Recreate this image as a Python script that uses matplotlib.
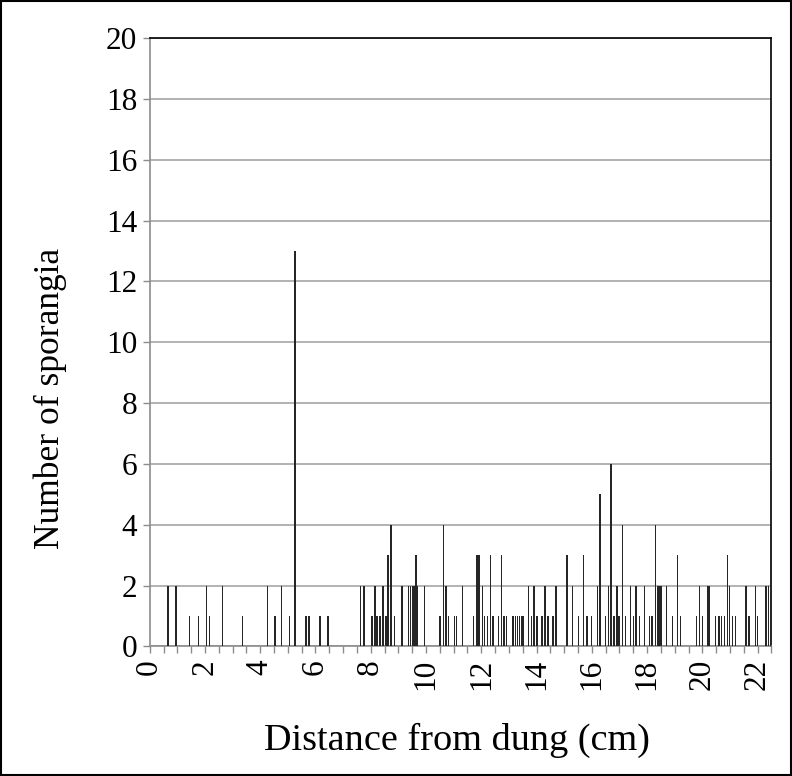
import numpy as np
import matplotlib
matplotlib.use("Agg")
from matplotlib import pyplot as plt
from matplotlib.patches import Rectangle

# distance from dung (cm) and number of sporangia
distance = [0.66, 0.95, 1.45, 1.76, 2.06, 2.16, 2.64, 3.36, 4.27, 4.54, 4.76, 5.05, 5.26,
            5.66, 5.76, 6.16, 6.45, 7.64, 7.75, 8.04, 8.15, 8.23, 8.34, 8.45, 8.55, 8.63,
            8.73, 8.86, 9.13, 9.36, 9.43, 9.51, 9.57, 9.64, 9.69, 9.94, 10.51, 10.64, 10.73,
            10.82, 11.03, 11.11, 11.33, 11.72, 11.82, 11.88, 11.94, 12.04, 12.12, 12.22,
            12.33, 12.42, 12.63, 12.73, 12.82, 12.91, 13.15, 13.24, 13.31, 13.39, 13.47,
            13.53, 13.71, 13.82, 13.91, 14.01, 14.20, 14.30, 14.41, 14.60, 14.70, 15.10,
            15.31, 15.51, 15.71, 15.82, 16.00, 16.20, 16.30, 16.49, 16.60, 16.69, 16.81,
            16.91, 16.99, 17.11, 17.21, 17.39, 17.51, 17.60, 17.72, 17.91, 18.09, 18.18,
            18.30, 18.39, 18.46, 18.51, 18.70, 18.91, 19.11, 19.21, 19.78, 19.90, 20.00,
            20.18, 20.24, 20.48, 20.60, 20.70, 20.81, 20.91, 20.99, 21.09, 21.19, 21.58,
            21.69, 21.93, 22.00, 22.28, 22.33, 22.40, 22.47]
sporangia = [2, 2, 1, 1, 2, 1, 2, 1, 2, 1, 2, 1, 13,
             1, 1, 1, 1, 2, 2, 1, 2, 1, 1, 2, 1, 3,
             4, 1, 2, 2, 2, 2, 2, 3, 2, 2, 1, 4, 2,
             1, 1, 1, 2, 1, 3, 3, 3, 2, 1, 1,
             3, 1, 1, 3, 1, 1, 1, 1, 1, 1, 1,
             1, 2, 1, 2, 1, 1, 2, 1, 1, 2, 3,
             2, 1, 3, 1, 1, 2, 5, 1, 2, 6, 1,
             2, 1, 4, 1, 2, 1, 2, 1, 2, 1, 1,
             4, 2, 2, 2, 2, 1, 3, 1, 1, 2, 1,
             2, 2, 1, 1, 1, 1, 3, 2, 1, 1, 2,
             1, 2, 1, 2, 2, 2, 4]

y_ticks = np.arange(0, 21, 2)
x_ticks = np.arange(0, 22.6, 0.5)

plt.rcParams["font.family"] = ["Liberation Serif", "DejaVu Serif"]

fig = plt.figure(figsize=(7.92, 7.76), dpi=100)
ax = fig.add_axes([0.189, 0.167, 0.785, 0.784])

ax.bar(distance, sporangia, width=0.05, color="#262626", zorder=3)

ax.set_xlim(0, 22.5)
ax.set_ylim(0, 20)
ax.set_yticks(y_ticks)
ax.set_xticks(x_ticks)
ax.set_xticklabels([str(int(t)) if t % 2 == 0 else "" for t in x_ticks], rotation=90)
ax.tick_params(axis="both", direction="out", length=5, width=1, color="#8c8c8c",
               labelsize=22.5, pad=4)
ax.grid(axis="y", color="#a6a6a6", linewidth=1.2, zorder=0)
ax.set_axisbelow(True)

for s in ["left", "bottom"]:
    ax.spines[s].set_color("#8c8c8c")
    ax.spines[s].set_linewidth(1.2)
for s in ["top", "right"]:
    ax.spines[s].set_color("black")
    ax.spines[s].set_linewidth(1.2)

ax.set_xlabel("Distance from dung (cm)", fontsize=27.5)
ax.set_ylabel("Number of sporangia", fontsize=25.5)
ax.xaxis.set_label_coords(0.494, -0.125)
ax.yaxis.set_label_coords(-0.133, 0.408)

fig.add_artist(Rectangle((0.001, 0.001), 0.998, 0.998, transform=fig.transFigure,
                         fill=False, edgecolor="black", linewidth=1.5))

fig.savefig("out.png", dpi=100)
